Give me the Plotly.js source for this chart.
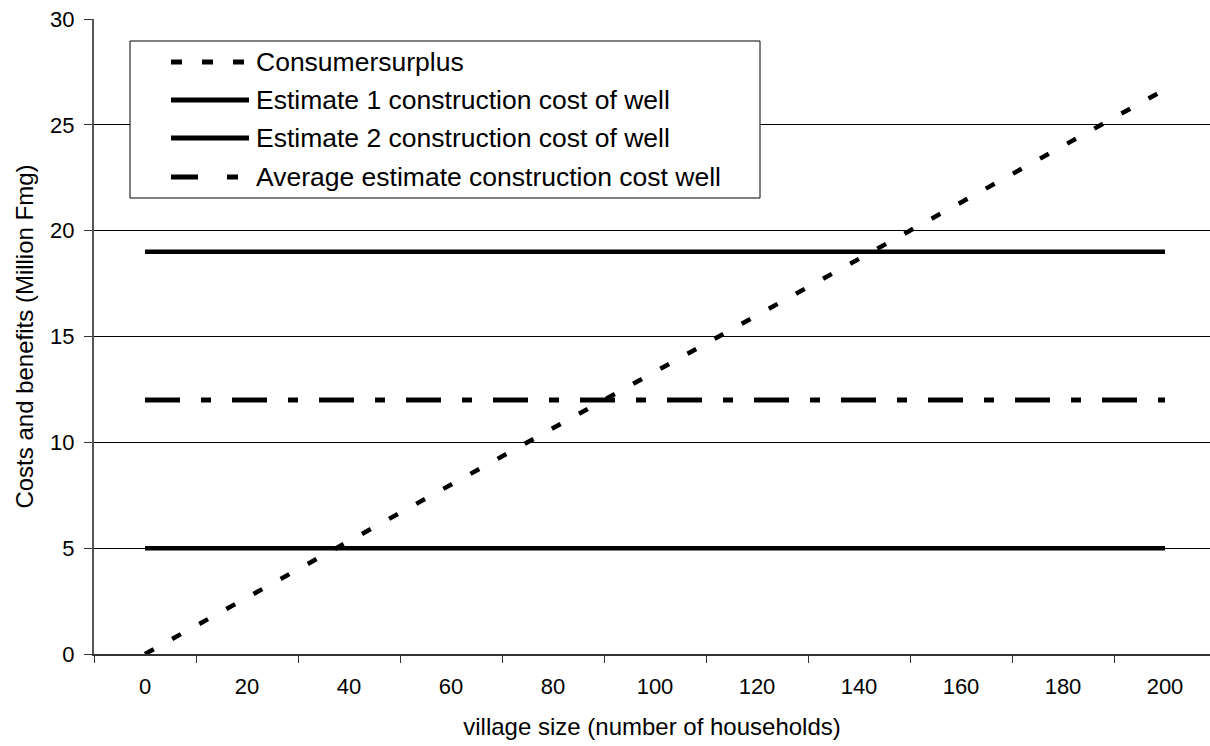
<!DOCTYPE html>
<html>
<head>
<meta charset="utf-8">
<script src="https://cdn.plot.ly/plotly-3.0.1.min.js"></script>
<style>
  html, body { margin: 0; padding: 0; background: #fff; }
  #chart { width: 1210px; height: 746px; }
</style>
</head>
<body>
<div id="chart"></div>
<script>
// ---- data ----
var villageSize = [0, 20, 40, 60, 80, 100, 120, 140, 160, 180, 200];
var tickLabels = ["0", "20", "40", "60", "80", "100", "120", "140", "160", "180", "200"];
var consumerSurplus = [0, 2.67, 5.33, 8.0, 10.67, 13.33, 16.0, 18.67, 21.33, 24.0, 26.67];
var estimate1 = [19, 19, 19, 19, 19, 19, 19, 19, 19, 19, 19];
var estimate2 = [5, 5, 5, 5, 5, 5, 5, 5, 5, 5, 5];
var averageEstimate = [12, 12, 12, 12, 12, 12, 12, 12, 12, 12, 12];
var seriesNames = [
  "Consumersurplus",
  "Estimate 1 construction cost of well",
  "Estimate 2 construction cost of well",
  "Average estimate construction cost well"
];
var categoryBoundaries = [-10, 10, 30, 50, 70, 90, 110, 130, 150, 170, 190];

// ---- styles ----
var FONT = "Liberation Sans, Arial, Helvetica, sans-serif";
var styles = [
  {color: "#000", width: 4.5, dash: "10px,21px"},
  {color: "#000", width: 4.5, dash: "solid"},
  {color: "#000", width: 4.5, dash: "solid"},
  {color: "#000", width: 5, dash: "35px,21px,10px,21px"}
];
var legendDash = ["11px,20px", "solid", "solid", "27px,29px,11px,20px"];
var seriesValues = [consumerSurplus, estimate1, estimate2, averageEstimate];

var traces = seriesValues.map(function (vals, i) {
  return {
    type: "scatter",
    mode: "lines",
    x: villageSize,
    y: vals,
    name: seriesNames[i],
    line: {color: styles[i].color, width: styles[i].width, dash: styles[i].dash, shape: "linear"},
    showlegend: false,
    hoverinfo: "x+y+name"
  };
});

// plot area geometry (px) for legend placement
var W = 1210, H = 746;
var M = {l: 94, r: 0, t: 19, b: 92};
var pw = W - M.l - M.r, ph = H - M.t - M.b;
function px2x(p) { return (p - M.l) / pw; }
function px2y(p) { return (H - M.b - p) / ph; }

var shapes = [{
  type: "rect", xref: "paper", yref: "paper",
  x0: px2x(130), x1: px2x(760), y0: px2y(198), y1: px2y(41),
  fillcolor: "#fff", line: {color: "#000", width: 1}, layer: "above"
}];
var annotations = [];
var rowY = [62, 100, 138, 177];
seriesNames.forEach(function (name, i) {
  shapes.push({
    type: "line", xref: "paper", yref: "paper",
    x0: px2x(171), x1: px2x(i === 0 ? 245 : 249), y0: px2y(rowY[i]), y1: px2y(rowY[i]),
    line: {color: "#000", width: 5, dash: legendDash[i]}, layer: "above"
  });
  annotations.push({
    xref: "paper", yref: "paper", x: px2x(254), y: px2y(rowY[i]),
    xanchor: "left", yanchor: "middle", showarrow: false,
    text: name, font: {family: FONT, size: 26.5, color: "#000"}
  });
});

var layout = {
  width: W, height: H,
  margin: M,
  paper_bgcolor: "#fff", plot_bgcolor: "#fff",
  font: {family: FONT, color: "#000", size: 22},
  showlegend: false,
  xaxis: {
    range: [-10, -10 + pw / 5.1],
    tickmode: "array", tickvals: villageSize, ticktext: tickLabels,
    ticks: "", showgrid: false, zeroline: false,
    showline: true, linecolor: "#333", linewidth: 2,
    ticklabelstandoff: 12,
    tickfont: {family: FONT, size: 22, color: "#000"},
    minor: {tickmode: "array", tickvals: categoryBoundaries, ticks: "outside", ticklen: 7, tickwidth: 1, tickcolor: "#333", showgrid: false},
    title: {text: "village size (number of households)", font: {family: FONT, size: 24, color: "#000"}, standoff: 20},
    fixedrange: true
  },
  yaxis: {
    range: [0, 30], tickmode: "linear", tick0: 0, dtick: 5,
    ticks: "outside", ticklen: 8, tickwidth: 1, tickcolor: "#333",
    ticklabelstandoff: 5,
    showgrid: true, gridcolor: "#000", gridwidth: 1,
    zeroline: false, showline: true, linecolor: "#555", linewidth: 2,
    tickfont: {family: FONT, size: 22, color: "#000"},
    title: {text: "Costs and benefits (Million Fmg)", font: {family: FONT, size: 24, color: "#000"}, standoff: 10},
    fixedrange: true
  },
  shapes: shapes,
  annotations: annotations
};

Plotly.newPlot("chart", traces, layout, {displayModeBar: false, staticPlot: true});
</script>
</body>
</html>
